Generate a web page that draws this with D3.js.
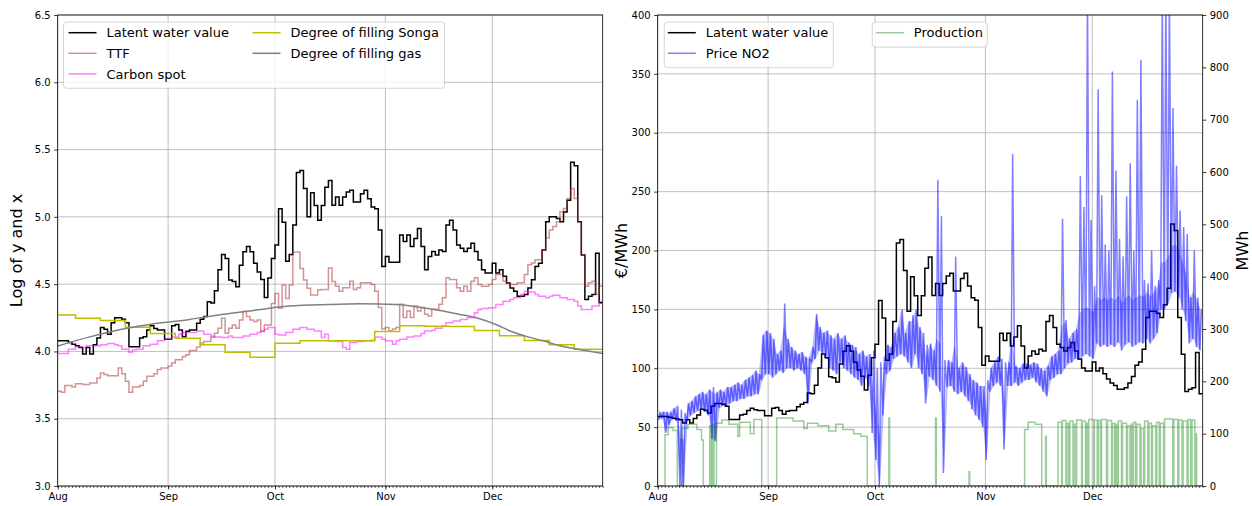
<!DOCTYPE html>
<html>
<head>
<meta charset="utf-8">
<script src="https://cdn.jsdelivr.net/npm/d3@7"></script>
<style>
body { margin: 0; background: #fff; }
svg { font-family: "DejaVu Sans", sans-serif; }
</style>
</head>
<body>
<svg width="1252" height="506"></svg>
<script>
// daily values, day 0 = 1 Aug, last = 31 Dec
const latentLog = [
    4.079, 4.079, 4.079, 4.067, 4.054, 4.042, 4.03, 3.98, 4.03, 3.98,
    4.05, 4.10, 4.177, 4.165, 4.128, 4.214, 4.25, 4.25, 4.24, 4.214,
    4.034, 4.034, 4.034, 4.10, 4.11, 4.16, 4.19, 4.17, 4.16, 4.16,
    4.09, 4.09, 4.19, 4.20, 4.16, 4.11, 4.15, 4.16, 4.16, 4.21,
    4.24, 4.26, 4.37, 4.36, 4.45, 4.607, 4.72, 4.69, 4.53, 4.52,
    4.48, 4.64, 4.74, 4.78, 4.74, 4.655, 4.59, 4.535, 4.40, 4.545,
    4.69, 4.79, 5.06, 4.96, 4.67, 4.72, 4.94, 5.33, 5.344, 5.21,
    5.0, 5.18, 5.085, 4.975, 5.085, 5.22, 5.27, 5.086, 5.147, 5.086,
    5.147, 5.184, 5.197, 5.11, 5.11, 5.172, 5.197, 5.135, 5.074, 5.061,
    4.902, 4.631, 4.705, 4.663, 4.663, 4.663, 4.865, 4.816, 4.865, 4.779,
    4.84, 4.914, 4.779, 4.607, 4.705, 4.742, 4.717, 4.754, 4.742, 4.939,
    4.975, 4.902, 4.791, 4.767, 4.742, 4.767, 4.803, 4.742, 4.68, 4.607,
    4.582, 4.582, 4.656, 4.582, 4.607, 4.558, 4.509, 4.472, 4.447, 4.41,
    4.41, 4.423, 4.472, 4.533, 4.631, 4.656, 4.754, 4.963, 5.0, 5.0,
    4.988, 4.963, 5.037, 5.123, 5.405, 5.38, 4.963, 4.717, 4.386, 4.41,
    4.423, 4.73, 4.361
];
const ttfLog = [
    3.704, 3.697, 3.746, 3.746, 3.736, 3.759, 3.759, 3.754, 3.754, 3.766,
    3.766, 3.803, 3.84, 3.828, 3.82, 3.82, 3.82, 3.877, 3.835, 3.778,
    3.697, 3.736, 3.736, 3.746, 3.778, 3.815, 3.815, 3.835, 3.865, 3.877,
    3.877, 3.889, 3.914, 3.938, 3.938, 3.963, 3.975, 4.007, 4.007, 4.032,
    4.062, 4.074, 4.074, 4.106, 4.135, 4.172, 4.246, 4.135, 4.172, 4.197,
    4.172, 4.234, 4.296, 4.259, 4.234, 4.222, 4.234, 4.148, 4.197, 4.197,
    4.357, 4.431, 4.32, 4.493, 4.394, 4.493, 4.739, 4.739, 4.616, 4.53,
    4.47, 4.42, 4.42, 4.456, 4.46, 4.46, 4.62, 4.52, 4.485, 4.448,
    4.473, 4.473, 4.522, 4.461, 4.473, 4.51, 4.51, 4.51, 4.498, 4.448,
    4.326, 4.166, 4.178, 4.154, 4.166, 4.178, 4.35, 4.252, 4.301, 4.252,
    4.338, 4.301, 4.326, 4.276, 4.264, 4.313, 4.313, 4.35, 4.399, 4.547,
    4.534, 4.534, 4.473, 4.448, 4.485, 4.448, 4.522, 4.547, 4.498, 4.485,
    4.485, 4.498, 4.534, 4.571, 4.571, 4.522, 4.51, 4.498, 4.498, 4.51,
    4.51, 4.571, 4.645, 4.657, 4.682, 4.682, 4.756, 4.842, 4.903, 4.928,
    4.964, 5.038, 5.063, 5.136, 5.21, 5.136, 4.964, 4.719, 4.485, 4.51,
    4.522, 4.424, 4.485
];
const carbonLog = [
    3.985, 3.985, 3.985, 4.017, 4.017, 4.034, 4.034, 4.03, 4.042, 4.042,
    4.042, 4.042, 4.049, 4.049, 4.059, 4.059, 4.049, 4.042, 4.017, 4.017,
    3.993, 4.01, 4.017, 4.017, 4.042, 4.042, 4.054, 4.054, 4.079, 4.079,
    4.091, 4.091, 4.108, 4.108, 4.128, 4.14, 4.14, 4.14, 4.14, 4.152,
    4.152, 4.128, 4.128, 4.115, 4.108, 4.108, 4.103, 4.103, 4.115, 4.103,
    4.103, 4.103, 4.115, 4.115, 4.128, 4.128, 4.14, 4.152, 4.165, 4.177,
    4.177, 4.128, 4.123, 4.123, 4.14, 4.14, 4.165, 4.165, 4.177, 4.177,
    4.165, 4.165, 4.152, 4.152, 4.103, 4.128, 4.079, 4.079, 4.074, 4.074,
    4.03, 4.017, 4.066, 4.066, 4.074, 4.074, 4.079, 4.079, 4.084, 4.108,
    4.108, 4.091, 4.079, 4.079, 4.054, 4.079, 4.091, 4.091, 4.108, 4.108,
    4.115, 4.115, 4.133, 4.152, 4.152, 4.157, 4.172, 4.172, 4.189, 4.214,
    4.214, 4.226, 4.226, 4.238, 4.238, 4.251, 4.251, 4.287, 4.312, 4.319,
    4.319, 4.324, 4.324, 4.349, 4.349, 4.373, 4.373, 4.386, 4.398, 4.398,
    4.423, 4.447, 4.442, 4.442, 4.423, 4.41, 4.41, 4.398, 4.41, 4.418,
    4.418, 4.398, 4.398, 4.386, 4.386, 4.373, 4.337, 4.312, 4.312, 4.312,
    4.337, 4.337, 4.373
];
// weekly reservoir filling (day the week starts, log value)
const songaDays = [0, 5, 12, 19, 26, 33, 40, 47, 54, 61, 68, 75, 82, 89, 96, 103, 110, 117, 124, 131, 138, 145];
const songaLog = [4.27, 4.246, 4.23, 4.18, 4.133, 4.098, 4.049, 3.993, 3.956, 4.06, 4.08, 4.08, 4.08, 4.148, 4.19, 4.188, 4.185, 4.155, 4.116, 4.081, 4.049, 4.017];
// gas storage filling, read at these days
const gasDays = [0, 9, 18, 27, 37, 46, 55, 65, 76, 85, 95, 104, 113, 118, 123, 127, 132, 137, 141, 146, 153];
const gasLog = [4.04, 4.108, 4.165, 4.206, 4.238, 4.275, 4.305, 4.337, 4.349, 4.354, 4.349, 4.319, 4.275, 4.246, 4.2, 4.152, 4.108, 4.074, 4.042, 4.017, 3.985];

// spot price NO2, daily low and high (€/MWh)
const priceLo = [
    56, 58, 45, 52, 58, 55, 0, 0, 55, 60,
    62, 64, 65, 63, 60, 40, 38, 66, 68, 68,
    70, 72, 72, 74, 74, 76, 76, 78, 78, 90,
    95, 95, 92, 95, 98, 96, 100, 100, 98, 100,
    98, 95, 70, 105, 108, 115, 112, 110, 100, 98,
    95, 105, 100, 98, 95, 92, 90, 85, 92, 85,
    45, 22, 0, 60, 95, 98, 108, 110, 112, 110,
    105, 100, 112, 100, 95, 70, 93, 90, 85, 80,
    11, 84, 85, 80, 78, 80, 76, 72, 65, 60,
    56, 50, 22, 80, 85, 88, 85, 31, 85, 85,
    88, 85, 88, 90, 90, 92, 88, 85, 80, 76,
    90, 92, 95, 95, 100, 104, 105, 108, 107, 110,
    112, 110, 108, 121, 118, 120, 118, 120, 118, 122,
    115, 120, 122, 118, 120, 122, 121, 125, 121, 125,
    130, 150, 150, 155, 164, 165, 160, 150, 140, 121,
    125, 118, 115
];
const priceHi = [
    62, 63, 63, 62, 66, 68, 65, 62, 70, 72,
    76, 78, 80, 78, 82, 84, 80, 82, 80, 84,
    84, 86, 88, 86, 90, 92, 94, 98, 95, 128,
    132, 130, 125, 112, 115, 155, 125, 118, 115, 112,
    114, 110, 108, 118, 146, 135, 130, 132, 128, 125,
    130, 125, 128, 122, 120, 118, 112, 115, 110, 112,
    115, 100, 105, 110, 120, 118, 130, 135, 150, 130,
    140, 145, 150, 135, 130, 120, 121, 115, 260, 229,
    107, 107, 105, 195, 100, 105, 101, 95, 90, 88,
    85, 85, 90, 100, 105, 110, 108, 105, 105, 282,
    102, 100, 104, 104, 103, 105, 104, 100, 98, 102,
    110, 112, 115, 227, 141, 125, 130, 133, 263, 237,
    420, 226, 170, 337, 247, 205, 200, 352, 268, 210,
    195, 246, 274, 200, 328, 362, 175, 172, 200, 170,
    175, 420, 420, 420, 321, 272, 234, 220, 214, 160,
    200, 160, 150
];
// production running periods: [start day, end day, MWh]
const prodOn = [
    [2.05, 3.0, 98], [3.0, 4.3, 112], [4.3, 5.5, 106],
    [6.7, 8.5, 110], [8.5, 11.0, 118], [11.0, 12.3, 108], [12.3, 12.8, 88],
    [14.6, 15.0, 115], [15.4, 15.8, 118],
    [16.5, 18.0, 120], [18.0, 20.0, 126], [20.0, 22.5, 118], [22.5, 23.0, 95],
    [23.0, 26.0, 122], [26.0, 27.0, 100], [27.0, 29.2, 127],
    [33.4, 38.0, 130], [38.0, 41.0, 124], [41.0, 42.0, 110], [42.0, 45.0, 120],
    [45.0, 48.0, 115], [48.0, 50.0, 105], [50.0, 52.0, 118], [52.0, 55.0, 108],
    [55.0, 57.0, 100], [57.0, 58.8, 95],
    [64.9, 65.1, 130], [78.0, 78.2, 130], [87.4, 87.6, 27],
    [103.0, 104.0, 108], [104.0, 106.0, 122], [106.0, 107.8, 118], [108.9, 109.1, 95],
    [112.4, 113.4, 122], [113.6, 114.6, 125], [114.9, 115.4, 120], [115.7, 116.6, 124],
    [116.9, 117.4, 118], [117.6, 119.0, 126], [119.2, 120.1, 124], [120.4, 120.8, 120],
    [121.0, 122.4, 127], [122.6, 123.4, 126], [123.7, 124.3, 125], [124.6, 126.0, 127],
    [126.3, 127.4, 125], [127.7, 128.3, 120], [128.6, 129.0, 118], [129.3, 130.2, 124],
    [130.5, 131.6, 120], [131.9, 132.6, 115], [132.9, 133.3, 118], [133.6, 134.2, 122],
    [134.5, 135.4, 118], [135.7, 136.4, 110], [136.7, 137.6, 124], [137.9, 138.6, 120],
    [138.9, 139.8, 115], [140.1, 140.8, 122], [141.1, 142.0, 120], [142.3, 144.6, 128],
    [144.9, 146.0, 127], [146.3, 147.2, 126], [147.5, 148.6, 124], [148.9, 149.6, 127],
    [150.0, 150.8, 126], [150.9, 151.3, 100]
];

const START = Date.UTC(2022, 7, 1);
const N_DAYS = 153;
const TOP = 15, BOTTOM = 486;
const svg = d3.select('svg');

function day(d) {
    return new Date(START + d * 864e5);
}

function stepPoints(values) {
    var pts = values.map(function(v, i) { return [i, v]; });
    pts.push([N_DAYS, values[values.length - 1]]);
    return pts;
}

function makePanel(x0, x1, yDomain, yTicks, yFmt, id) {
    var x = d3.scaleUtc().domain([day(0), day(N_DAYS)]).range([x0, x1]);
    var y = d3.scaleLinear().domain(yDomain).range([BOTTOM, TOP]);
    var g = svg.append('g');
    var months = x.ticks(d3.utcMonth.every(1)).filter(function(t) { return t < day(N_DAYS); });

    g.append('clipPath').attr('id', id)
        .append('rect')
        .attr('x', x0).attr('y', TOP)
        .attr('width', x1 - x0).attr('height', BOTTOM - TOP);

    var grid = g.append('g')
        .attr('stroke', '#b0b0b0')
        .attr('stroke-width', 0.8);
    grid.selectAll('line.gx')
        .data(months)
        .join('line')
        .attr('x1', function(d) { return x(d); })
        .attr('x2', function(d) { return x(d); })
        .attr('y1', TOP).attr('y2', BOTTOM);
    grid.selectAll('line.gy')
        .data(yTicks)
        .join('line')
        .attr('x1', x0).attr('x2', x1)
        .attr('y1', function(d) { return y(d); })
        .attr('y2', function(d) { return y(d); });

    var plot = g.append('g').attr('clip-path', 'url(#' + id + ')');

    return {x: x, y: y, g: g, plot: plot, x0: x0, x1: x1, months: months, yTicks: yTicks, yFmt: yFmt};
}

function styleAxis(sel) {
    sel.select('.domain').remove();
    sel.selectAll('line').attr('stroke-width', 0.8);
    sel.selectAll('text').attr('font-size', 10).attr('fill', 'black')
        .attr('font-family', '"DejaVu Sans", sans-serif');
}

function drawAxes(p) {
    var g = p.g;
    g.append('rect')
        .attr('x', p.x0).attr('y', TOP)
        .attr('width', p.x1 - p.x0).attr('height', BOTTOM - TOP)
        .attr('fill', 'none')
        .attr('stroke', 'black')
        .attr('stroke-width', 0.8);

    var minor = g.append('g')
        .attr('transform', 'translate(0,' + BOTTOM + ')')
        .call(d3.axisBottom(p.x).ticks(d3.utcDay.every(1)).tickSize(2).tickFormat(''));
    minor.select('.domain').remove();
    minor.selectAll('line').attr('stroke-width', 0.6);

    g.append('g')
        .attr('transform', 'translate(0,' + BOTTOM + ')')
        .call(d3.axisBottom(p.x).tickValues(p.months)
            .tickFormat(d3.utcFormat('%b')).tickSize(3.5).tickPadding(3.5))
        .call(styleAxis);

    g.append('g')
        .attr('transform', 'translate(' + p.x0 + ',0)')
        .call(d3.axisLeft(p.y).tickValues(p.yTicks).tickFormat(p.yFmt).tickSize(3.5).tickPadding(3.5))
        .call(styleAxis);
}

function yLabel(x, text) {
    svg.append('text')
        .attr('transform', 'translate(' + x + ',' + ((TOP + BOTTOM) / 2) + ') rotate(-90)')
        .attr('text-anchor', 'middle')
        .attr('font-size', 16)
        .text(text);
}

function legend(x, y, w, entries, columns) {
    var rows = Math.ceil(entries.length / columns.length);
    var lg = svg.append('g');
    lg.append('rect')
        .attr('x', x).attr('y', y)
        .attr('width', w).attr('height', rows * 20.6 + 4.5)
        .attr('rx', 3)
        .attr('fill', 'white').attr('fill-opacity', 0.8)
        .attr('stroke', '#cccccc').attr('stroke-width', 0.8);
    entries.forEach(function(e, i) {
        var col = Math.floor(i / rows), row = i % rows;
        var cx = x + columns[col];
        var cy = y + 10.7 + row * 20.6;
        lg.append('line')
            .attr('x1', cx).attr('x2', cx + 28)
            .attr('y1', cy).attr('y2', cy)
            .attr('stroke', e.color).attr('stroke-width', 1.5);
        lg.append('text')
            .attr('x', cx + 38).attr('y', cy)
            .attr('dy', '0.36em')
            .attr('font-size', 13)
            .text(e.name);
    });
}

// ---- left panel: log values ----
var L = makePanel(57.7, 602.7, [3.0, 6.5], d3.range(3.0, 6.51, 0.5), d3.format('.1f'), 'clipL');

var lineL = d3.line()
    .x(function(d) { return L.x(day(d[0])); })
    .y(function(d) { return L.y(d[1]); });

var leftSeries = [
    {name: 'Latent water value', color: 'black', pts: stepPoints(latentLog), curve: d3.curveStepAfter},
    {name: 'TTF', color: 'rgba(165,42,42,0.5)', pts: stepPoints(ttfLog), curve: d3.curveStepAfter},
    {name: 'Carbon spot', color: 'rgba(255,0,255,0.5)', pts: stepPoints(carbonLog), curve: d3.curveStepAfter},
    {name: 'Degree of filling Songa', color: '#bfbf00',
        pts: songaDays.map(function(d, i) { return [d, songaLog[i]]; }).concat([[N_DAYS, songaLog[songaLog.length - 1]]]),
        curve: d3.curveStepAfter},
    {name: 'Degree of filling gas', color: 'gray',
        pts: gasDays.map(function(d, i) { return [d, gasLog[i]]; }), curve: d3.curveMonotoneX}
];
leftSeries.forEach(function(s) {
    L.plot.append('path')
        .attr('d', lineL.curve(s.curve)(s.pts))
        .attr('fill', 'none')
        .attr('stroke', s.color)
        .attr('stroke-width', 1.5);
});
drawAxes(L);
yLabel(22, 'Log of y and x');
legend(63.5, 22, 381, leftSeries, [5, 189]);

// ---- right panel: €/MWh and MWh ----
var R = makePanel(657.7, 1202.7, [0, 400], d3.range(0, 401, 50), d3.format('d'), 'clipR');
var y2 = d3.scaleLinear().domain([0, 900]).range([BOTTOM, TOP]);

var latentEur = latentLog.map(function(v) { return Math.exp(v); });
R.plot.append('path')
    .attr('d', d3.line()
        .curve(d3.curveStepAfter)
        .x(function(d) { return R.x(day(d[0])); })
        .y(function(d) { return R.y(d[1]); })(stepPoints(latentEur)))
    .attr('fill', 'none').attr('stroke', 'black').attr('stroke-width', 1.5);

var pricePts = [];
priceLo.forEach(function(lo, i) {
    pricePts.push([i + 0.2, lo]);
    pricePts.push([i + 0.65, priceHi[i]]);
});
// dense hourly band: shade between the daily low and high
R.plot.append('path')
    .attr('d', d3.area()
        .x(function(d, i) { return R.x(day(i + 0.4)); })
        .y0(function(d, i) { return R.y(priceLo[i]); })
        .y1(function(d, i) { return R.y(Math.min(d, priceLo[i] + 40)); })(priceHi))
    .attr('fill', 'rgba(0,0,255,0.28)');
R.plot.append('path')
    .attr('d', d3.line()
        .x(function(d) { return R.x(day(d[0])); })
        .y(function(d) { return R.y(d[1]); })(pricePts))
    .attr('fill', 'none').attr('stroke', 'rgba(0,0,255,0.5)').attr('stroke-width', 1.5);

var prodPts = [[0, 0]];
var prevEnd = null;
prodOn.forEach(function(s) {
    if (prevEnd !== s[0]) {
        if (prevEnd !== null) prodPts.push([prevEnd, 0]);
        prodPts.push([s[0], 0]);
    }
    prodPts.push([s[0], s[2]]);
    prodPts.push([s[1], s[2]]);
    prevEnd = s[1];
});
prodPts.push([prevEnd, 0]);
prodPts.push([N_DAYS, 0]);
R.plot.append('path')
    .attr('d', d3.line()
        .x(function(d) { return R.x(day(d[0])); })
        .y(function(d) { return y2(d[1]); })(prodPts))
    .attr('fill', 'none').attr('stroke', 'rgba(0,128,0,0.4)').attr('stroke-width', 1.5);

drawAxes(R);
R.g.append('g')
    .attr('transform', 'translate(' + R.x1 + ',0)')
    .call(d3.axisRight(y2).tickValues(d3.range(0, 901, 100)).tickSize(3.5).tickPadding(3.5))
    .call(styleAxis);

yLabel(627, '€/MWh');
yLabel(1248, 'MWh');
legend(664.3, 22, 169, [
    {name: 'Latent water value', color: 'black'},
    {name: 'Price NO2', color: 'rgba(0,0,255,0.5)'}
], [3.5]);
legend(872.3, 22, 115, [
    {name: 'Production', color: 'rgba(0,128,0,0.4)'}
], [3.5]);
</script>
</body>
</html>
